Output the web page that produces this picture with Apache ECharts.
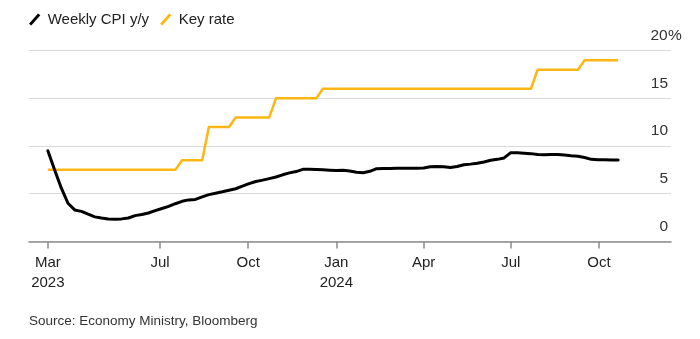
<!DOCTYPE html>
<html><head><meta charset="utf-8">
<script src="https://cdn.jsdelivr.net/npm/echarts@6/dist/echarts.min.js"></script>
<style>html,body{margin:0;padding:0;background:#fff}#c{width:700px;height:339px}</style>
</head><body><div id="c"></div>
<script>
// Weekly observations (Mondays) starting 2023-03-06
const firstWeek = [2023, 2, 6];
const weeklyCPI = [
  9.5, 7.5, 5.6, 4.0, 3.3, 3.15, 2.85, 2.57, 2.45, 2.35,
  2.33, 2.36, 2.45, 2.7, 2.82, 2.98, 3.22, 3.45, 3.67, 3.95,
  4.2, 4.35, 4.4, 4.66, 4.9, 5.05, 5.2, 5.37, 5.52, 5.8,
  6.05, 6.28, 6.42, 6.58, 6.75, 6.98, 7.18, 7.32, 7.55, 7.55,
  7.53, 7.5, 7.47, 7.42, 7.45, 7.38, 7.25, 7.2, 7.35, 7.62,
  7.63, 7.64, 7.66, 7.67, 7.67, 7.68, 7.7, 7.83, 7.84, 7.83,
  7.75, 7.85, 8.04, 8.1, 8.19, 8.33, 8.5, 8.6, 8.75, 9.3,
  9.28, 9.25, 9.2, 9.12, 9.09, 9.1, 9.1, 9.05, 8.97, 8.92,
  8.8, 8.6, 8.56, 8.55, 8.54, 8.54
];
const keyRate = [
  7.5, 7.5, 7.5, 7.5, 7.5, 7.5, 7.5, 7.5, 7.5, 7.5,
  7.5, 7.5, 7.5, 7.5, 7.5, 7.5, 7.5, 7.5, 7.5, 7.5,
  8.5, 8.5, 8.5, 8.5, 12, 12, 12, 12, 13, 13,
  13, 13, 13, 13, 15, 15, 15, 15, 15, 15,
  15, 16, 16, 16, 16, 16, 16, 16, 16, 16,
  16, 16, 16, 16, 16, 16, 16, 16, 16, 16,
  16, 16, 16, 16, 16, 16, 16, 16, 16, 16,
  16, 16, 16, 18, 18, 18, 18, 18, 18, 18,
  19, 19, 19, 19, 19, 19
];
const tickDates = [[2023,2,6],[2023,6,1],[2023,9,1],[2024,0,1],[2024,3,1],[2024,6,1],[2024,9,1]];
const tickLabels = ['Mar\n2023','Jul','Oct','Jan\n2024','Apr','Jul','Oct'];
const seriesNames = ['Weekly CPI y/y', 'Key rate'];
const yTickValues = [0, 5, 10, 15, 20];
const sourceText = 'Source: Economy Ministry, Bloomberg';

const DAY = 86400000;
const t0 = Date.UTC(firstWeek[0], firstWeek[1], firstWeek[2]);
const weeks = weeklyCPI.map((_, i) => t0 + i * 7 * DAY);
const tickTs = tickDates.map(d => Date.UTC(d[0], d[1], d[2]));
const labelFor = {};
tickTs.forEach((t, i) => { labelFor[t] = tickLabels[i]; });

const FONT = '"Liberation Sans", Arial, Helvetica, sans-serif';
const slash = 'path://M0,9 L8,0 L10,1.6 L2,10.6 Z';

const chart = echarts.init(document.getElementById('c'), null, {renderer: 'canvas'});
chart.setOption({
  animation: false,
  backgroundColor: '#fff',
  textStyle: {fontFamily: FONT},
  title: {
    text: sourceText, left: 29, top: 314, padding: 0,
    textStyle: {fontSize: 13.5, fontWeight: 'normal', color: '#333', fontFamily: FONT}
  },
  legend: {
    left: 29, top: 12, padding: 0, itemWidth: 12, itemHeight: 12, itemGap: 11,
    icon: slash,
    data: seriesNames,
    textStyle: {fontSize: 15, color: '#222', fontFamily: FONT, padding: [0, 0, 0, 2]}
  },
  grid: {left: 29, right: 29, top: 50.6, bottom: 97.6, containLabel: false, outerBoundsMode: 'none'},
  xAxis: {
    type: 'value',
    min: Date.UTC(2023, 1, 14, 8),
    max: Date.UTC(2024, 11, 15, 3),
    splitLine: {show: false},
    axisLine: {show: true, lineStyle: {color: '#8c8c8c', width: 1.5}},
    axisTick: {show: true, customValues: tickTs, length: 7, lineStyle: {color: '#8c8c8c', width: 1.5}},
    axisLabel: {
      customValues: tickTs,
      formatter: v => labelFor[v] || '',
      fontSize: 15, color: '#222', lineHeight: 20, margin: 11, fontFamily: FONT
    }
  },
  yAxis: {
    type: 'value', position: 'right', min: 0, max: 20, interval: 5,
    axisLine: {show: false}, axisTick: {show: false},
    splitLine: {show: true, lineStyle: {color: '#dadada', width: 1}},
    axisLabel: {
      inside: true, margin: 21, align: 'left', verticalAlign: 'bottom',
      padding: [0, 0, 7, 0],
      formatter: v => '{n|' + v + '}' + (v === yTickValues[yTickValues.length - 1] ? '{p|%}' : ''),
      rich: {
        n: {width: 18, align: 'right', fontSize: 15.5, color: '#333', fontFamily: FONT},
        p: {fontSize: 15.5, color: '#333', fontFamily: FONT}
      }
    }
  },
  series: [
    {
      name: seriesNames[0], type: 'line', symbol: 'none', z: 3,
      data: weeks.map((t, i) => [t, weeklyCPI[i]]),
      itemStyle: {color: '#000'},
      lineStyle: {color: '#000', width: 3, join: 'round', cap: 'round'}
    },
    {
      name: seriesNames[1], type: 'line', symbol: 'none', z: 2,
      data: weeks.map((t, i) => [t, keyRate[i]]),
      itemStyle: {color: '#fdb714'},
      lineStyle: {color: '#fdb714', width: 2.5, join: 'round'}
    }
  ]
});
</script>
</body></html>
